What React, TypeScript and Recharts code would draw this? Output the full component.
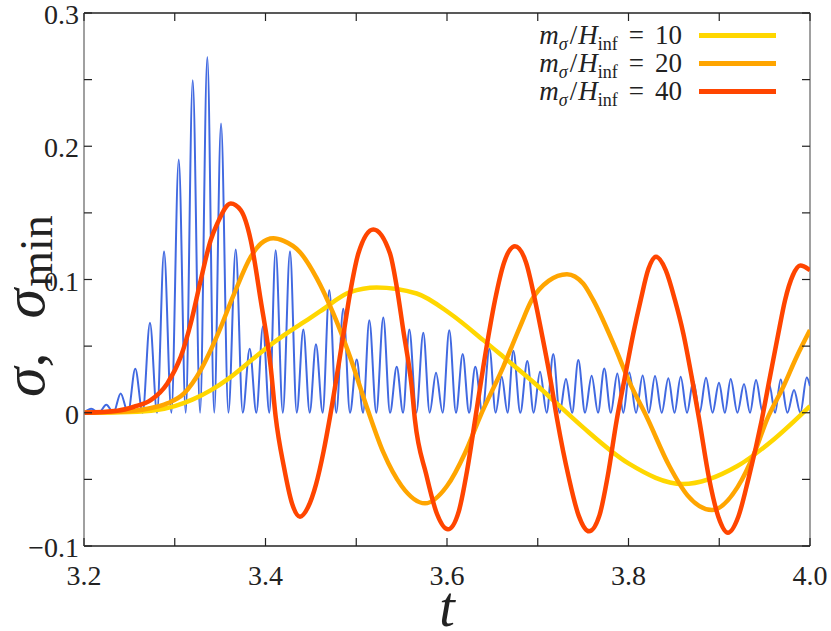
import React from 'react';
import { LineChart, Line, XAxis, YAxis, ReferenceLine, Legend } from 'recharts';

// axes
const X_TICKS = [3.2, 3.3, 3.4, 3.5, 3.6, 3.7, 3.8, 3.9, 4.0];
const X_TICK_LABELS = ['3.2', '', '3.4', '', '3.6', '', '3.8', '', '4.0'];
const Y_TICKS = [-0.1, -0.05, 0, 0.05, 0.1, 0.15, 0.2, 0.25, 0.3];
const Y_TICK_LABELS = ['\u22120.1', '', '0', '', '0.1', '', '0.2', '', '0.3'];

const MASS_RATIOS = ['10', '20', '40'];

// sigma_min (blue): peaks, troughs in between sit on zero
const BLUE_PEAK_T = [
  3.208, 3.2246, 3.2404, 3.2565, 3.2727, 3.2882, 3.3044, 3.3198, 3.3359, 3.351,
  3.3672, 3.3826, 3.3972, 3.4112, 3.427, 3.4417, 3.4556, 3.4703, 3.4857, 3.5005,
  3.5144, 3.5298, 3.5446, 3.5585, 3.5739, 3.5879, 3.6025, 3.6173, 3.6312, 3.6468,
  3.6603, 3.6731, 3.6885, 3.7025, 3.7171, 3.7311, 3.7447, 3.7594, 3.7733, 3.7877,
  3.8009, 3.8156, 3.8292, 3.8439, 3.8575, 3.8714, 3.8854, 3.8997, 3.9126, 3.9273,
  3.9405, 3.9552, 3.9677, 3.9824, 3.9964,
];
const BLUE_PEAK_V = [
  0.003, 0.006, 0.0145, 0.033, 0.0675, 0.121, 0.19, 0.2495, 0.267, 0.217,
  0.1225, 0.048, 0.065, 0.122, 0.121, 0.0625, 0.0515, 0.092, 0.078, 0.04,
  0.0695, 0.0715, 0.0345, 0.0625, 0.06, 0.03, 0.062, 0.044, 0.0345, 0.048,
  0.027, 0.0465, 0.0388, 0.0308, 0.044, 0.0253, 0.0395, 0.0278, 0.0333, 0.0295,
  0.0303, 0.028, 0.0275, 0.0258, 0.027, 0.0238, 0.0263, 0.0225, 0.0253, 0.0215,
  0.0245, 0.021, 0.025, 0.017, 0.0265,
];
const BLUE_TROUGH_T = [
  3.2163, 3.2325, 3.2485, 3.2646, 3.2805, 3.2963, 3.3121, 3.3279, 3.3435, 3.3591,
  3.3749, 3.3899, 3.4042, 3.4191, 3.4344, 3.4487, 3.463, 3.478, 3.4931, 3.5075,
  3.5221, 3.5372, 3.5516, 3.5662, 3.5809, 3.5952, 3.6099, 3.6243, 3.639, 3.6536,
  3.6667, 3.6808, 3.6955, 3.7098, 3.7241, 3.7379, 3.7521, 3.7664, 3.7805, 3.7943,
  3.8083, 3.8224, 3.8366, 3.8507, 3.8645, 3.8784, 3.8926, 3.9062, 3.92, 3.9339,
  3.9479, 3.9615, 3.9751, 3.9894,
];
const BLUE_END = 0.02;

// sigma for m/H = 10 (yellow)
const YELLOW_T = [3.2, 3.25, 3.28, 3.3, 3.32, 3.34, 3.36, 3.3837, 3.4, 3.42, 3.44, 3.46, 3.4931, 3.5225, 3.5666, 3.6033, 3.64, 3.662, 3.6988, 3.7209, 3.75, 3.8, 3.86, 3.92, 3.96, 4.0];
const YELLOW_V = [0, 0.0005, 0.002, 0.005, 0.01, 0.017, 0.026, 0.039, 0.048, 0.058, 0.067, 0.076, 0.0905, 0.094, 0.0895, 0.0745, 0.0545, 0.042, 0.0208, 0.007, -0.011, -0.038, -0.0535, -0.04, -0.02, 0.005];

// sigma for m/H = 20 (orange)
const ORANGE_T = [3.2, 3.24, 3.27, 3.2918, 3.3102, 3.3286, 3.3469, 3.3653, 3.3837, 3.395, 3.4086, 3.42, 3.438, 3.4564, 3.4747, 3.4931, 3.5115, 3.53, 3.55, 3.5758, 3.6, 3.62, 3.6364, 3.662, 3.6804, 3.6933, 3.712, 3.7322, 3.75, 3.7612, 3.7833, 3.8017, 3.82, 3.845, 3.865, 3.892, 3.92, 3.94, 3.9523, 3.9706, 3.9853, 4.0];
const ORANGE_V = [0, 0.0008, 0.003, 0.007, 0.0145, 0.032, 0.058, 0.089, 0.117, 0.127, 0.131, 0.129, 0.1205, 0.101, 0.0745, 0.042, 0.0045, -0.03, -0.055, -0.068, -0.055, -0.03, -0.003, 0.0345, 0.0645, 0.0845, 0.099, 0.104, 0.097, 0.0845, 0.052, 0.022, -0.003, -0.04, -0.062, -0.073, -0.056, -0.028, -0.0055, 0.0195, 0.042, 0.062];

// sigma for m/H = 40 (red)
const RED_T = [3.2, 3.2367, 3.2551, 3.2735, 3.2918, 3.3066, 3.3176, 3.3286, 3.3396, 3.3469, 3.3617, 3.3727, 3.3837, 3.3947, 3.4057, 3.4112, 3.4204, 3.4292, 3.438, 3.4468, 3.4556, 3.464, 3.4711, 3.4857, 3.4931, 3.5023, 3.5188, 3.5372, 3.5446, 3.5518, 3.5611, 3.5647, 3.577, 3.589, 3.6011, 3.613, 3.622, 3.6309, 3.64, 3.6474, 3.6529, 3.663, 3.6749, 3.687, 3.697, 3.7044, 3.7135, 3.7215, 3.734, 3.745, 3.7565, 3.768, 3.777, 3.787, 3.7961, 3.8053, 3.8134, 3.822, 3.8303, 3.841, 3.8512, 3.8604, 3.8696, 3.878, 3.889, 3.899, 3.9096, 3.921, 3.932, 3.9468, 3.9559, 3.9651, 3.9725, 3.981, 3.9893, 4.0];
const RED_V = [0, 0.0015, 0.0045, 0.0095, 0.022, 0.042, 0.067, 0.0995, 0.1295, 0.142, 0.157, 0.152, 0.1295, 0.0845, 0.0345, -0.003, -0.041, -0.068, -0.078, -0.071, -0.054, -0.029, -0.003, 0.058, 0.0895, 0.1195, 0.1375, 0.1195, 0.0945, 0.062, 0.0195, -0.0055, -0.046, -0.076, -0.0875, -0.074, -0.044, -0.0055, 0.0345, 0.0645, 0.0845, 0.113, 0.125, 0.113, 0.0845, 0.0595, 0.027, -0.0055, -0.048, -0.077, -0.089, -0.077, -0.048, -0.0055, 0.027, 0.0595, 0.0845, 0.108, 0.117, 0.107, 0.0845, 0.0595, 0.027, -0.0055, -0.05, -0.078, -0.09, -0.078, -0.05, -0.0055, 0.027, 0.0595, 0.0845, 0.103, 0.1105, 0.107];

const zip = (ts: number[], vs: number[]) => ts.map((t, i) => ({ t, v: vs[i] }));

const blueData: { t: number; v: number }[] = [{ t: 3.2, v: 0 }];
BLUE_PEAK_T.forEach((t, i) => {
  blueData.push({ t, v: BLUE_PEAK_V[i] });
  if (i < BLUE_TROUGH_T.length) blueData.push({ t: BLUE_TROUGH_T[i], v: 0 });
});
blueData.push({ t: 4.0, v: BLUE_END });

const yellowData = zip(YELLOW_T, YELLOW_V);
const orangeData = zip(ORANGE_T, ORANGE_V);
const redData = zip(RED_T, RED_V);

const W = 831;
const H = 631;
const PLOT_TOP = 13;
const PLOT_RIGHT = 810;
const SERIF = "'Liberation Serif', 'DejaVu Serif', serif";
const INK = '#222';
const FRAME_GRAY = '#808080';

const serifStyle: React.CSSProperties = { fontFamily: SERIF };

const XTick = (props: any) => {
  const { x, y, index } = props;
  const label = X_TICK_LABELS[index];
  return (
    <g>
      <line x1={x} x2={x} y1={y} y2={y - 8} stroke={INK} strokeWidth={1.2} />
      <line x1={x} x2={x} y1={PLOT_TOP} y2={PLOT_TOP + 8} stroke={INK} strokeWidth={1.2} />
      {label && (
        <text x={x} y={y + 39} textAnchor="middle" style={serifStyle} fontSize={28} fill={INK}>
          {label}
        </text>
      )}
    </g>
  );
};

const YTick = (props: any) => {
  const { x, y, index } = props;
  const label = Y_TICK_LABELS[index];
  return (
    <g>
      <line x1={x} x2={x + 8} y1={y} y2={y} stroke={INK} strokeWidth={1.2} />
      <line x1={PLOT_RIGHT} x2={PLOT_RIGHT - 8} y1={y} y2={y} stroke={INK} strokeWidth={1.2} />
      {label && (
        <text x={x - 5} y={y + 11} textAnchor="end" style={serifStyle} fontSize={28} fill={INK}>
          {label}
        </text>
      )}
    </g>
  );
};

const XTitle = () => (
  <text x={447} y={626} textAnchor="middle" style={serifStyle} fontSize={56} fontStyle="italic" fill={INK}>
    t
  </text>
);

const YTitle = () => (
  <text transform="translate(44,397) rotate(-90)" style={serifStyle} fontSize={60} fill={INK}>
    <tspan fontStyle="italic">σ</tspan>
    <tspan>,</tspan>
    <tspan dx={34} fontStyle="italic">σ</tspan>
    <tspan fontSize={46} dy={8} dx={2}>min</tspan>
  </text>
);

const subStyle: React.CSSProperties = { fontSize: 18, position: 'relative', top: 6 };

const LegendBox = (props: any) => {
  const payload = (props.payload || []).filter((e: any) => MASS_RATIOS.includes(String(e.value)));
  return (
    <div style={{ fontFamily: SERIF, fontSize: 27, color: INK }}>
      {payload.map((entry: any, i: number) => (
        <div key={i} style={{ display: 'flex', alignItems: 'center', height: 28 }}>
          <span style={{ width: 170, textAlign: 'right', whiteSpace: 'nowrap' }}>
            <i>m</i>
            <span style={subStyle}><i>σ</i></span>
            <span style={{ margin: '0 1px 0 2px' }}>/</span>
            <i>H</i>
            <span style={subStyle}>inf</span>
            <span style={{ margin: '0 11px' }}>=</span>
            {entry.value}
          </span>
          <span style={{ marginLeft: 17, width: 77, height: 5, background: entry.color, display: 'block' }} />
        </div>
      ))}
    </div>
  );
};

export default function App() {
  return (
    <div style={{ position: 'absolute', left: 0, top: 0, width: W, height: H, background: '#fff' }}>
      <LineChart width={W} height={H} margin={{ top: PLOT_TOP, right: W - PLOT_RIGHT, left: 24, bottom: 35 }}>
        <XAxis
          dataKey="t"
          type="number"
          domain={[3.2, 4.0]}
          ticks={X_TICKS}
          allowDataOverflow
          height={50}
          tickLine={false}
          tickSize={0}
          tickMargin={0}
          tick={<XTick />}
          axisLine={{ stroke: INK, strokeWidth: 1.5 }}
          label={<XTitle />}
          interval={0}
        />
        <YAxis
          type="number"
          domain={[-0.1, 0.3]}
          ticks={Y_TICKS}
          allowDataOverflow
          width={60}
          tickLine={false}
          tickSize={0}
          tickMargin={0}
          tick={<YTick />}
          axisLine={{ stroke: FRAME_GRAY, strokeWidth: 1.5 }}
          label={<YTitle />}
          interval={0}
        />
        <ReferenceLine y={0.3} stroke={INK} strokeWidth={1.5} />
        <ReferenceLine x={4.0} stroke={FRAME_GRAY} strokeWidth={1.5} />
        <Legend
          layout="vertical"
          align="center"
          verticalAlign="middle"
          wrapperStyle={{ top: 21, left: 512, width: 290 }}
          content={<LegendBox />}
        />
        <Line data={blueData} dataKey="v" type="monotone" stroke="#4169e1" strokeWidth={2} dot={false} isAnimationActive={false} legendType="none" />
        <Line data={yellowData} dataKey="v" name={MASS_RATIOS[0]} type="monotone" stroke="#ffd700" strokeWidth={4.5} dot={false} isAnimationActive={false} />
        <Line data={orangeData} dataKey="v" name={MASS_RATIOS[1]} type="monotone" stroke="#ffa500" strokeWidth={4.5} dot={false} isAnimationActive={false} />
        <Line data={redData} dataKey="v" name={MASS_RATIOS[2]} type="monotone" stroke="#ff4500" strokeWidth={4.5} dot={false} isAnimationActive={false} />
      </LineChart>
    </div>
  );
}
